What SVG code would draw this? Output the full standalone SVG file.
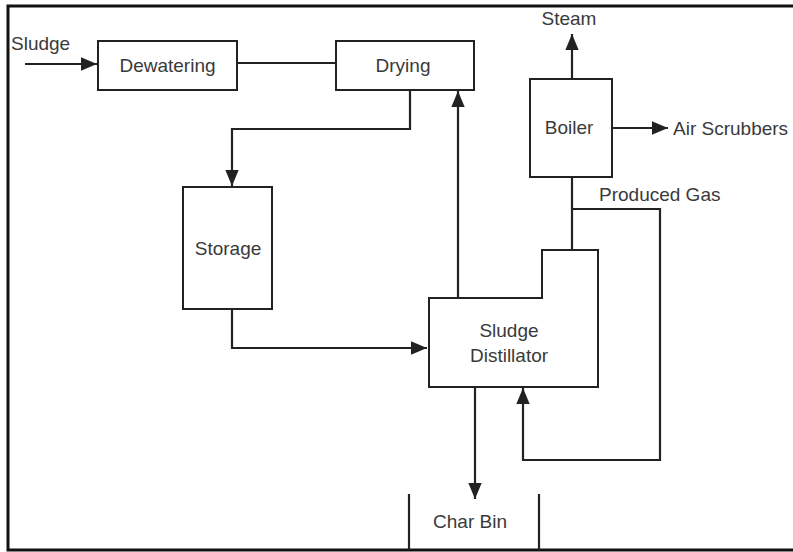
<svg xmlns="http://www.w3.org/2000/svg" width="793" height="552" viewBox="0 0 793 552">
<defs>
<style>
.box{fill:#fff;stroke:#222;stroke-width:2}
.ln{fill:none;stroke:#222;stroke-width:2.2}
.t{font-family:"Liberation Sans",Arial,sans-serif;font-size:19px;fill:#3a3a3a}
.c{text-anchor:middle}
</style>
<marker id="a" viewBox="0 0 12 12" refX="12" refY="6" markerWidth="16" markerHeight="16" orient="auto" markerUnits="userSpaceOnUse">
<path d="M0,1 L12,6 L0,11 Z" fill="#222"/>
</marker>
</defs>
<rect width="793" height="552" fill="#fff"/>
<g id="frame">
<path d="M793,6 H8 V550 H793" fill="none" stroke="#111" stroke-width="3"/>
</g>
<g id="connectors">
<line class="ln" x1="25" y1="64" x2="97" y2="64" marker-end="url(#a)"/>
<line class="ln" x1="237" y1="63" x2="336" y2="63"/>
<polyline class="ln" points="410,90 410,129 232,129 232,186" marker-end="url(#a)"/>
<polyline class="ln" points="232,309 232,348 427,348" marker-end="url(#a)"/>
<line class="ln" x1="458" y1="298" x2="458" y2="91" marker-end="url(#a)"/>
<line class="ln" x1="572" y1="79" x2="572" y2="34" marker-end="url(#a)"/>
<line class="ln" x1="612" y1="128" x2="668" y2="128" marker-end="url(#a)"/>
<line class="ln" x1="572" y1="177" x2="572" y2="250"/>
<polyline class="ln" points="572,209 660,209 660,460 523,460 523,388" marker-end="url(#a)"/>
<line class="ln" x1="475" y1="387" x2="475" y2="499" marker-end="url(#a)"/>
</g>
<g id="sludge-in"><text class="t" x="11" y="50">Sludge</text></g>
<g id="dewatering">
<rect class="box" x="98" y="41" width="139" height="49"/>
<text class="t c" x="167.5" y="72">Dewatering</text>
</g>
<g id="drying">
<rect class="box" x="336" y="41" width="138" height="49"/>
<text class="t c" x="403" y="72">Drying</text>
</g>
<g id="storage">
<rect class="box" x="183" y="187" width="89" height="122"/>
<text class="t c" x="228" y="255">Storage</text>
</g>
<g id="distillator">
<polygon class="box" points="429,298 542,298 542,250 598,250 598,387 429,387"/>
<text class="t c" x="509" y="337">Sludge</text>
<text class="t c" x="509" y="362">Distillator</text>
</g>
<g id="boiler">
<rect class="box" x="530" y="79" width="82" height="98"/>
<text class="t c" x="569" y="134">Boiler</text>
</g>
<g id="steam"><text class="t c" x="569" y="25">Steam</text></g>
<g id="air-scrubbers"><text class="t" x="673" y="135">Air Scrubbers</text></g>
<g id="produced-gas"><text class="t" x="599" y="201">Produced Gas</text></g>
<g id="char-bin">
<polyline class="ln" points="409,494 409,550"/>
<polyline class="ln" points="539,494 539,550"/>
<text class="t c" x="470" y="528">Char Bin</text>
</g>
</svg>
